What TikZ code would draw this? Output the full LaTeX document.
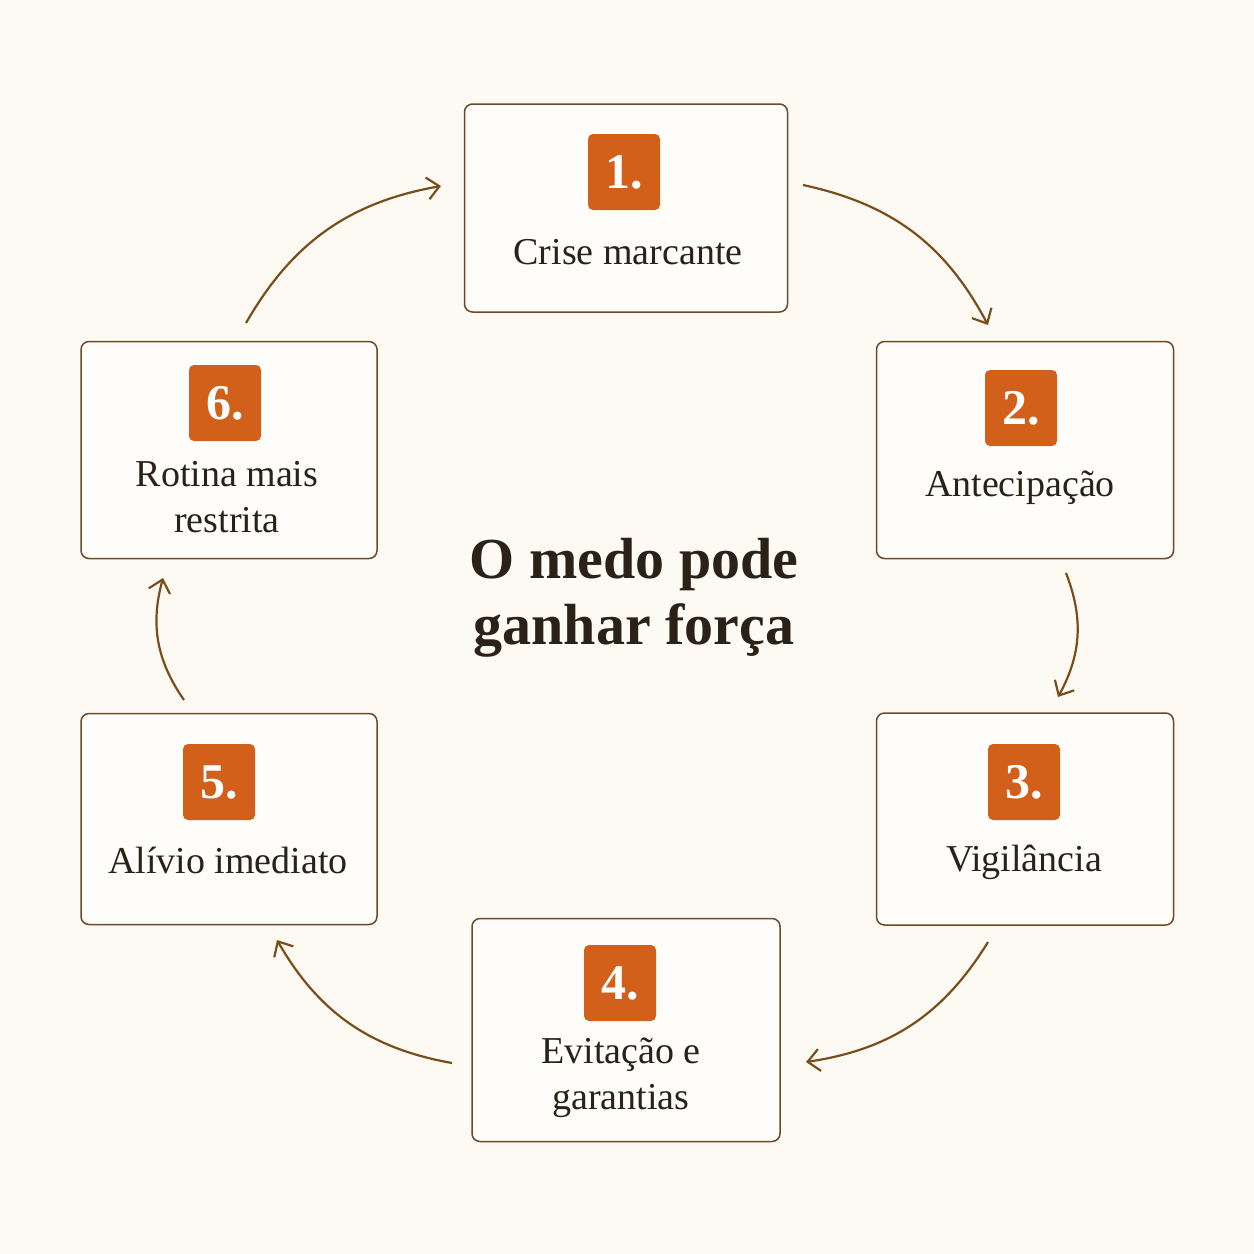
\documentclass[tikz,border=0pt]{standalone}
\usepackage{fontspec}
\setmainfont{Liberation Serif}
\usetikzlibrary{arrows.meta}
\definecolor{bg}{HTML}{FCFAF3}
\definecolor{bd}{HTML}{6B4A2A}
\definecolor{org}{HTML}{D2601A}
\definecolor{arr}{HTML}{7A4E1A}
\definecolor{txt}{HTML}{2A2118}
\begin{document}
\begin{tikzpicture}[x=1pt,y=-1pt,
 box/.style={draw=bd,line width=1.5pt,fill=white!60!bg,rounded corners=8pt,inner sep=0pt},
 badge/.style={fill=org,rounded corners=5pt,minimum width=72pt,minimum height=76pt,text=white,font=\fontsize{50}{50}\selectfont\bfseries,inner sep=0pt},
 lbl/.style={text=txt,font=\fontsize{38}{46}\selectfont,align=center},
 ar/.style={draw=arr,line width=2.2pt,-{Straight Barb[length=12pt,width=22pt,line width=2.2pt]}}]
\fill[bg] (0,0) rectangle (1254,1254);
\useasboundingbox (0,0) rectangle (1254,1254);
\node[box,minimum width=323pt,minimum height=208pt] (b1) at (626,208) {};
\node[box,minimum width=297pt,minimum height=217pt] (b2) at (1025,450) {};
\node[box,minimum width=297pt,minimum height=212pt] (b3) at (1025,819) {};
\node[box,minimum width=308pt,minimum height=223pt] (b4) at (626,1030) {};
\node[box,minimum width=296pt,minimum height=211pt] (b5) at (229,819) {};
\node[box,minimum width=296pt,minimum height=217pt] (b6) at (229,450) {};
\node[badge] (n1) at (624,172) {1.};
\node[badge] (n2) at (1021,408) {2.};
\node[badge] (n3) at (1024,782) {3.};
\node[badge] (n4) at (620,983) {4.};
\node[badge] (n5) at (219,782) {5.};
\node[badge] (n6) at (225,403) {6.};
\node[lbl] (t1) at (628,252) {Crise marcante};
\node[lbl] (t2) at (1020,488) {Antecipação};
\node[lbl] (t3) at (1024,862) {Vigilância};
\node[lbl] (t4) at (621,1078) {Evitação e\\garantias};
\node[lbl] (t5) at (228,860) {Alívio imediato};
\node[lbl] (t6) at (227,497) {Rotina mais\\restrita};
\node[text=txt,font=\fontsize{58}{66}\selectfont\bfseries,align=center] (tt) at (634,598) {O medo pode\\ganhar força};
\coordinate (a1) at (803,185); \coordinate (a2) at (988,325);
\coordinate (c1) at (1066,573); \coordinate (c2) at (1058,697);
\coordinate (d1) at (988,942); \coordinate (d2) at (806,1062);
\coordinate (e1) at (452,1063); \coordinate (e2) at (277,940);
\coordinate (f1) at (184,700); \coordinate (f2) at (163,578);
\coordinate (g1) at (246,323); \coordinate (g2) at (441,186);
\draw[ar] (a1) to[bend left=25] (a2);
\draw[ar] (c1) to[bend left=25] (c2);
\draw[ar] (d1) to[bend left=25] (d2);
\draw[ar] (e1) to[bend left=25] (e2);
\draw[ar] (f1) to[bend left=25] (f2);
\draw[ar] (g1) to[bend left=25] (g2);
\end{tikzpicture}
\end{document}
